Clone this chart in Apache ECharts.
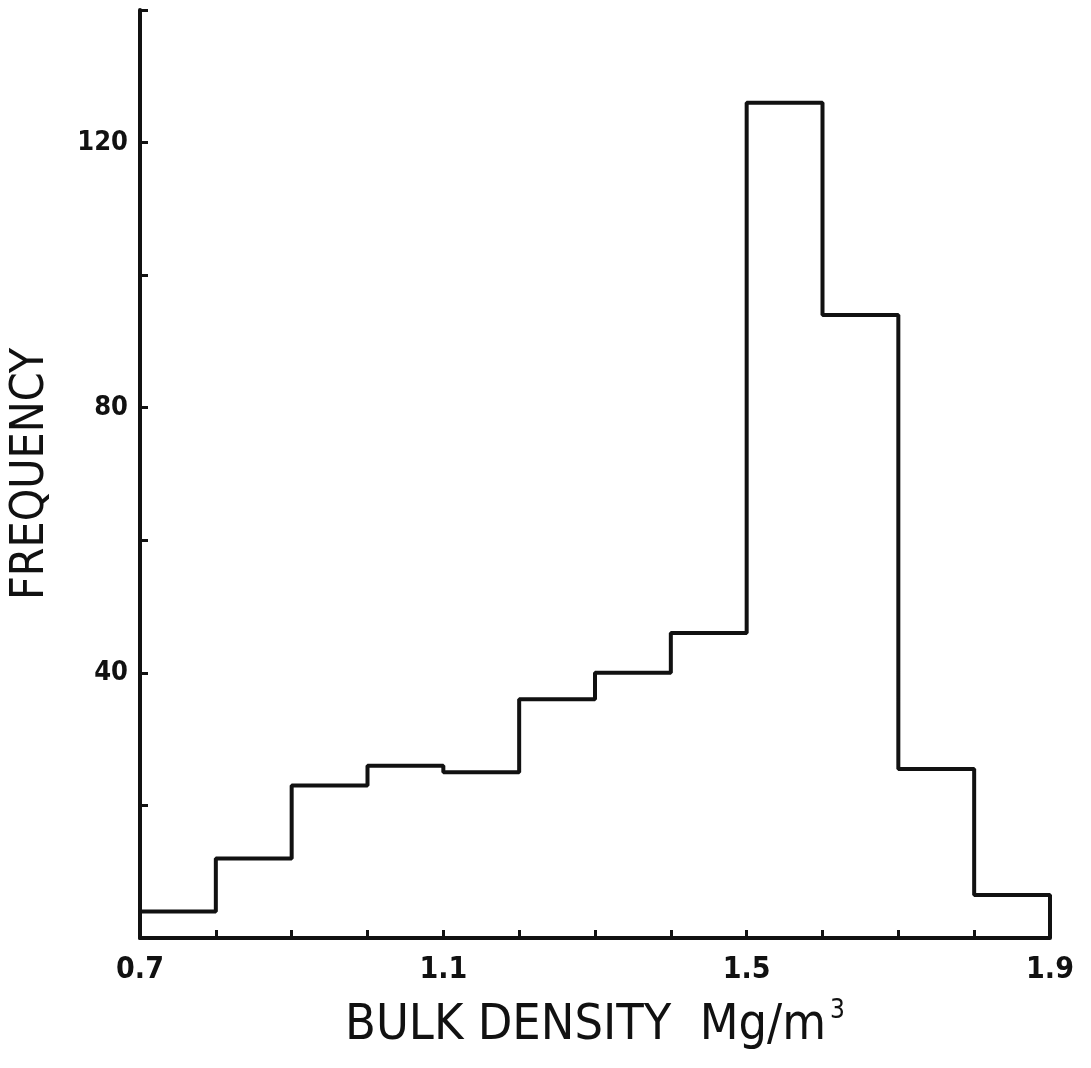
<!DOCTYPE html>
<html>
<head>
<meta charset="utf-8">
<script src="https://cdn.jsdelivr.net/npm/echarts@6/dist/echarts.min.js"></script>
<style>
html,body{margin:0;padding:0;background:#fff;}
#chart{width:1091px;height:1068px;}
</style>
</head>
<body>
<div id="chart"></div>
<script>
// Bin left edges (Mg/m^3) and bin width
var binStarts = [0.7, 0.8, 0.9, 1.0, 1.1, 1.2, 1.3, 1.4, 1.5, 1.6, 1.7, 1.8];
var binWidth = 0.1;
// Frequencies per bin
var frequencies = [4, 12, 23, 26, 25, 36, 40, 46, 126, 94, 25.5, 6.5];
// Tick labels shown
var xTickLabels = ['0.7', '1.1', '1.5', '1.9'];
var yTickLabels = ['40', '80', '120'];

var xTitle = 'BULK DENSITY  Mg/m{sup|3}';
var yTitle = 'FREQUENCY';

// Build step outline from bins
var stepData = [[binStarts[0], 0]];
for (var i = 0; i < binStarts.length; i++) {
  stepData.push([binStarts[i], frequencies[i]]);
}
var lastEdge = +(binStarts[binStarts.length - 1] + binWidth).toFixed(2);
stepData.push([lastEdge, frequencies[frequencies.length - 1]]);
stepData.push([lastEdge, 0]);

var labelFont = '"Liberation Sans Narrow", "DejaVu Sans Condensed", "DejaVu Sans", sans-serif';
var titleFont = '"Liberation Sans Narrow", "DejaVu Sans Condensed", "DejaVu Sans", sans-serif';

var chart = echarts.init(document.getElementById('chart'));
chart.setOption({
  backgroundColor: '#fff',
  animation: false,
  grid: {left: 140, right: 41, top: 10, bottom: 130, containLabel: false, outerBoundsMode: 'none'},
  xAxis: {
    type: 'value',
    min: 0.7, max: 1.9, interval: 0.1,
    name: xTitle,
    nameLocation: 'middle',
    nameGap: 60,
    nameTextStyle: {
      fontFamily: titleFont, fontSize: 50, color: '#111',
      rich: {sup: {fontFamily: titleFont, fontSize: 26, color: '#111', verticalAlign: 'top', padding: [0,0,30,4]}}
    },
    axisLine: {show: true, onZero: false, lineStyle: {color: '#111', width: 4}},
    axisTick: {show: true, inside: true, length: 8, lineStyle: {color: '#111', width: 3}},
    splitLine: {show: false},
    axisLabel: {
      margin: 17,
      fontFamily: labelFont, fontWeight: 'bold', fontSize: 30, color: '#111',
      formatter: function (v) {
        var s = v.toFixed(1);
        return xTickLabels.indexOf(s) >= 0 ? s : '';
      }
    }
  },
  yAxis: {
    type: 'value',
    min: 0, max: 140, interval: 20,
    name: yTitle,
    nameLocation: 'middle',
    nameRotate: 90,
    nameGap: 86,
    nameTextStyle: {fontFamily: titleFont, fontSize: 46, color: '#111'},
    axisLine: {show: true, lineStyle: {color: '#111', width: 4}},
    axisTick: {show: true, inside: true, length: 8, lineStyle: {color: '#111', width: 3}},
    splitLine: {show: false},
    axisLabel: {
      margin: 12,
      fontFamily: labelFont, fontWeight: 'bold', fontSize: 27, color: '#111',
      formatter: function (v) {
        var s = String(Math.round(v));
        return yTickLabels.indexOf(s) >= 0 ? s : '';
      }
    }
  },
  series: [{
    type: 'line',
    step: 'end',
    data: stepData,
    symbol: 'none',
    lineStyle: {color: '#111', width: 4},
    silent: true
  }]
});
</script>
</body>
</html>
